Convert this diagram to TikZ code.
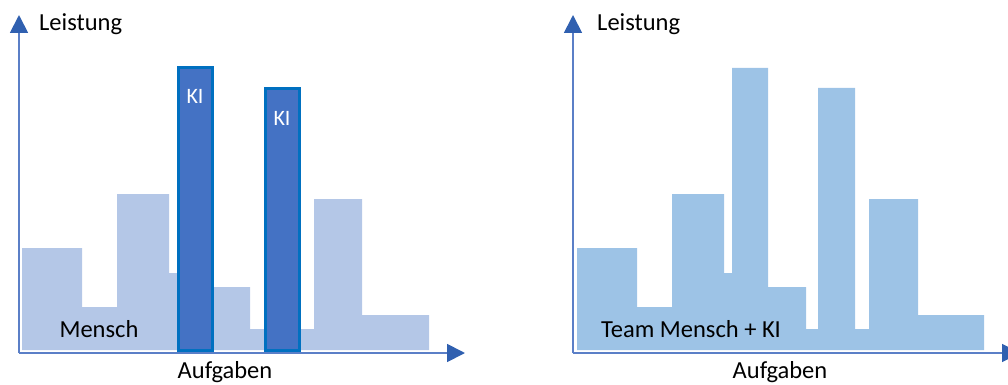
\documentclass[tikz,border=0pt]{standalone}
\usepackage{fontspec}
\setmainfont{Carlito}
\usetikzlibrary{arrows.meta}
\definecolor{axisblue}{HTML}{5B7FC7}
\definecolor{tipblue}{HTML}{3060B0}
\definecolor{humanfill}{HTML}{B4C7E7}
\definecolor{teamfill}{HTML}{9DC3E6}
\definecolor{aifill}{HTML}{4472C4}
\definecolor{aiedge}{HTML}{0070C0}
\tikzset{
  axis/.style={draw=axisblue, line width=1.8pt, -{Triangle[length=18pt,width=18pt,color=tipblue]}},
  lbl/.style={font=\fontsize{24.5}{28}\selectfont, text=black, inner sep=0pt, anchor=base},
  kilbl/.style={font=\fontsize{22}{26}\selectfont, text=white, inner sep=0pt, anchor=base},
  aibar/.style={fill=aifill, draw=aiedge, line width=3pt},
}
\begin{document}
\begin{tikzpicture}[x=1pt,y=-1pt]
\useasboundingbox (0,0) rectangle (1008,385);
\clip (0,0) rectangle (1008,385);

% ---------- left chart: human alone, AI peaks on top ----------
\fill[humanfill] (22,350) -- (22,248) -- (82,248) -- (82,307) -- (117,307) -- (117,194)
  -- (169,194) -- (169,273) -- (178,273) -- (178,68) -- (213,68) -- (213,287)
  -- (250,287) -- (250,329) -- (264,329) -- (264,88) -- (299,88) -- (299,329)
  -- (314,329) -- (314,199) -- (362,199) -- (362,315) -- (429,315) -- (429,350) -- cycle;
\path[aibar] (178,68) rectangle (212,350);
\path[aibar] (265,89) rectangle (299,350);
\node[kilbl] (ki1) at (195,103) {KI};
\node[kilbl] (ki2) at (282,125) {KI};

\coordinate (o1) at (19,353);
\coordinate (y1) at (19,15);
\coordinate (x1) at (465,353);
\draw[axis] (o1) -- (y1);
\draw[axis] (o1) -- (x1);
\node[lbl, anchor=base west] (perf1) at (39,31) {Leistung};
\node[lbl] (tasks1) at (225,378) {Aufgaben};
\node[lbl] (human) at (99,337) {Mensch};

% ---------- right chart: human and AI as a team ----------
\begin{scope}[xshift=555pt]
\fill[teamfill] (22,350) -- (22,248) -- (82,248) -- (82,307) -- (117,307) -- (117,194)
  -- (169,194) -- (169,273) -- (177,273) -- (177,68) -- (213,68) -- (213,287)
  -- (251,287) -- (251,329) -- (263,329) -- (263,88) -- (300,88) -- (300,329)
  -- (314,329) -- (314,199) -- (363,199) -- (363,315) -- (429,315) -- (429,350) -- cycle;
\coordinate (o2) at (18,353);
\coordinate (y2) at (18,15);
\coordinate (x2) at (465,353);
\draw[axis] (o2) -- (y2);
\draw[axis] (o2) -- (x2);
\node[lbl, anchor=base west] (perf2) at (42,31) {Leistung};
\node[lbl] (tasks2) at (225,378) {Aufgaben};
\node[lbl] (team) at (136,337) {Team Mensch + KI};
\end{scope}
\end{tikzpicture}
\end{document}
